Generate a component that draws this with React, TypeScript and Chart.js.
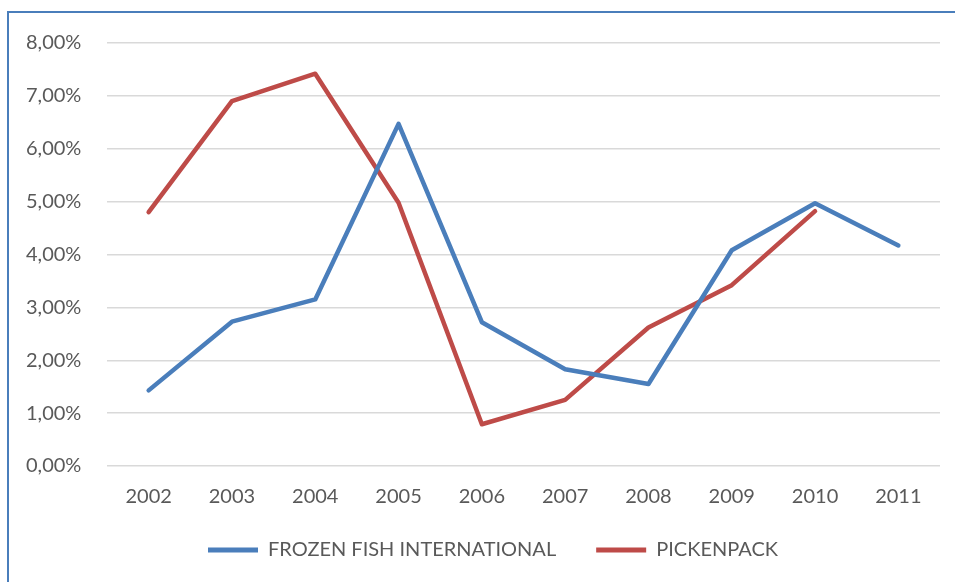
import React, { useEffect, useRef } from "react";
import { Chart, registerables } from "chart.js";

Chart.register(...registerables);

const years = ["2002", "2003", "2004", "2005", "2006", "2007", "2008", "2009", "2010", "2011"];
const frozenFish = [1.43, 2.73, 3.15, 6.47, 2.72, 1.83, 1.55, 4.08, 4.97, 4.17];
const pickenpack = [4.8, 6.9, 7.42, 4.98, 0.79, 1.25, 2.62, 3.42, 4.82, null];
const seriesNames = ["FROZEN FISH INTERNATIONAL", "PICKENPACK"];
const seriesColors = ["#4A7EBB", "#BE4B48"];

const FONT = "Lato, 'Noto Sans', sans-serif";
const TEXT = "#595959";

export default function App() {
  const ref = useRef<HTMLCanvasElement | null>(null);
  useEffect(() => {
    if (!ref.current) return;
    const chart = new Chart(ref.current, {
      type: "line",
      data: {
        labels: years,
        datasets: [frozenFish, pickenpack].map((d, i) => ({
          label: seriesNames[i],
          data: d,
          borderColor: seriesColors[i],
          backgroundColor: seriesColors[i],
          borderWidth: 4.5,
          pointRadius: 0,
          pointHoverRadius: 0,
          tension: 0,
          borderCapStyle: "round",
          borderJoinStyle: "round",
          fill: false,
        })),
      },
      options: {
        responsive: false,
        animation: false,
        layout: { padding: { left: 46, right: 15, top: 43, bottom: 12 } },
        plugins: {
          tooltip: { enabled: false },
          legend: {
            position: "bottom",
            labels: {
              boxWidth: 50,
              boxHeight: 5,
              padding: 40,
              color: TEXT,
              font: { family: FONT, size: 20 },
              generateLabels: (c: any) =>
                c.data.datasets.map((ds: any, i: number) => ({
                  text: ds.label,
                  fillStyle: ds.borderColor,
                  strokeStyle: ds.borderColor,
                  lineWidth: 0,
                  hidden: false,
                  datasetIndex: i,
                  fontColor: TEXT,
                })),
            },
          },
        },
        scales: {
          x: {
            offset: true,
            grid: { display: false, offset: true },
            border: { display: false },
            ticks: {
              color: TEXT,
              font: { family: FONT, size: 20 },
              mirror: true,
              padding: -43,
              maxRotation: 0,
              autoSkip: false,
            },
            afterFit: (s: any) => {
              s.height = 34;
            },
          },
          y: {
            min: 0,
            max: 8,
            grid: { color: "#D9D9D9", lineWidth: 1.5, drawTicks: false },
            border: { display: false },
            ticks: {
              stepSize: 1,
              mirror: true,
              crossAlign: "near",
              padding: -81,
              color: TEXT,
              font: { family: FONT, size: 20 },
              callback: (v: any) => Number(v).toFixed(2).replace(".", ",") + "%",
            },
            afterFit: (s: any) => {
              s.width = 61;
            },
          },
        },
      },
    });
    return () => chart.destroy();
  }, []);
  return (
    <div style={{ position: "fixed", left: 0, top: 0, width: 955, height: 582, overflow: "hidden", background: "#fff" }}>
      <div
        style={{
          position: "absolute",
          left: 7,
          top: 11,
          width: 2000,
          height: 2000,
          borderLeft: "2px solid #4A7EBB",
          borderTop: "2px solid #4A7EBB",
        }}
      />
      <canvas ref={ref} width={955} height={582} style={{ position: "absolute", left: 0, top: 0 }} />
    </div>
  );
}
